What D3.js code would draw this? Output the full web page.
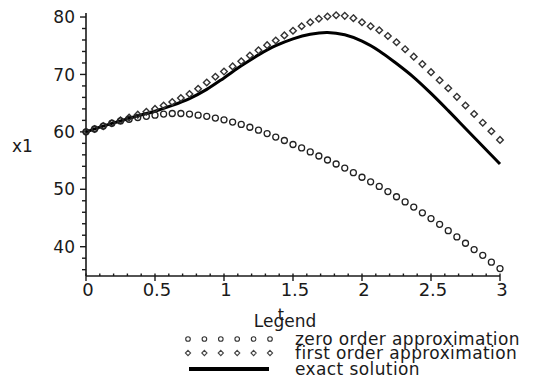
<!DOCTYPE html>
<html><head><meta charset="utf-8">
<script src="https://cdn.jsdelivr.net/npm/d3@7"></script>
<style>body{margin:0;background:#fff}svg{display:block}text{font-family:"DejaVu Sans",sans-serif;fill:#1a1a1a}</style>
</head><body><svg id="c" width="543" height="381"></svg>
<script>
// Time samples for the marker series (t = 0 .. 3)
const tMarkers = d3.range(49).map(i => i / 16);
const zeroOrder = [60.0,60.5,61.0,61.5,61.9,62.2,62.5,62.7,62.9,63.1,63.2,63.2,63.1,62.9,62.7,62.4,
  62.1,61.7,61.3,60.8,60.3,59.7,59.1,58.5,57.8,57.2,56.5,55.8,55.1,54.4,53.7,52.9,
  52.1,51.3,50.5,49.6,48.7,47.8,46.9,45.9,44.9,43.9,42.8,41.7,40.6,39.5,38.5,37.3,36.2];
const firstOrder = [60.0,60.5,61.0,61.5,62.0,62.5,63.0,63.5,64.0,64.6,65.2,65.9,66.6,67.5,68.6,69.6,
  70.5,71.4,72.3,73.3,74.2,75.1,75.9,76.8,77.6,78.4,79.1,79.7,80.1,80.3,80.2,79.8,
  79.1,78.4,77.7,76.7,75.6,74.4,73.1,71.8,70.4,69.0,67.6,66.1,64.6,63.1,61.6,60.1,58.6];
const tExact = [0,0.125,0.25,0.375,0.5,0.625,0.75,0.875,1,1.125,1.25,1.375,1.5,1.625,1.75,1.875,2,2.125,2.25,2.375,2.5,2.625,2.75,2.875,3];
const exact = [60.0,61.0,61.9,62.8,63.6,64.6,65.8,67.4,69.4,71.5,73.4,75.0,76.2,77.0,77.3,76.9,75.8,74.1,71.9,69.5,66.7,63.7,60.6,57.5,54.4];
const xTicks = [0,0.5,1,1.5,2,2.5,3];
const xTickLabels = ["0","0.5","1","1.5","2","2.5","3"];
const yTicks = [40,50,60,70,80];
const yTickLabels = ["40","50","60","70","80"];
const legendLabels = ["zero order approximation","first order approximation","exact solution"];

const svg = d3.select("#c");
const x = d3.scaleLinear().domain([0,3]).range([86,500]);
const y = d3.scaleLinear().domain([34.9,80.7]).range([276,13]);
const ink = "#1a1a1a";

// y axis
svg.append("line").attr("x1",x(0)).attr("x2",x(0)).attr("y1",y.range()[1]).attr("y2",y.range()[0]).attr("stroke",ink).attr("stroke-width",1.6);
d3.range(36,81,2).forEach(v=>{
  const major = v % 10 === 0;
  svg.append("line").attr("x1",x(0)-(major?6:4)).attr("x2",x(0)).attr("y1",y(v)).attr("y2",y(v)).attr("stroke",ink).attr("stroke-width",1.4);
});
yTicks.forEach((v,i)=>{
  svg.append("text").attr("x",x(0)-11).attr("y",y(v)).attr("dy","0.36em").attr("text-anchor","end").attr("font-size",17).text(yTickLabels[i]);
});
// x axis
svg.append("line").attr("x1",x(0)).attr("x2",x(3)).attr("y1",y(34.9)).attr("y2",y(34.9)).attr("stroke",ink).attr("stroke-width",1.6);
d3.range(0,31).forEach(k=>{
  const t = k/10, major = k % 5 === 0;
  svg.append("line").attr("x1",x(t)).attr("x2",x(t)).attr("y1",y(34.9)+(major?5:0)).attr("y2",y(34.9)-2.5).attr("stroke",ink).attr("stroke-width",1.4);
});
xTicks.forEach((t,i)=>{
  svg.append("text").attr("x",x(t)+2).attr("y",296).attr("text-anchor","middle").attr("font-size",18).text(xTickLabels[i]);
});
svg.append("text").attr("x",12).attr("y",152).attr("font-size",17).text("x1");
svg.append("text").attr("x",281).attr("y",320).attr("text-anchor","middle").attr("font-size",16).text("t");

// exact solution line
const line = d3.line().x(d=>x(d[0])).y(d=>y(d[1])).curve(d3.curveCatmullRom.alpha(0.5));
svg.append("path").datum(tExact.map((t,i)=>[t,exact[i]])).attr("d",line).attr("fill","none").attr("stroke","#000").attr("stroke-width",3);

// first order diamonds
const diamond = (cx,cy,r)=>`M${cx},${cy-r}L${cx+r},${cy}L${cx},${cy+r}L${cx-r},${cy}Z`;
svg.append("g").selectAll("path").data(tMarkers.map((t,i)=>[t,firstOrder[i]])).join("path")
  .attr("d",d=>diamond(x(d[0]),y(d[1]),3.3)).attr("fill","none").attr("stroke","#333").attr("stroke-width",1.4);
// zero order circles
svg.append("g").selectAll("circle").data(tMarkers.map((t,i)=>[t,zeroOrder[i]])).join("circle")
  .attr("cx",d=>x(d[0])).attr("cy",d=>y(d[1])).attr("r",3).attr("fill","none").attr("stroke","#222").attr("stroke-width",1.3);

// legend
svg.append("text").attr("x",285).attr("y",327).attr("text-anchor","middle").attr("font-size",17).text("Legend");
const lx = d3.range(6).map(i=>188+16.4*i);
const rowY = [339,353,369];
lx.forEach(cx=>{
  svg.append("circle").attr("cx",cx).attr("cy",rowY[0]).attr("r",2.3).attr("fill","none").attr("stroke","#333").attr("stroke-width",1.1);
  svg.append("path").attr("d",diamond(cx,rowY[1],2.6)).attr("fill","none").attr("stroke","#444").attr("stroke-width",1.1);
});
svg.append("line").attr("x1",189).attr("x2",269).attr("y1",rowY[2]).attr("y2",rowY[2]).attr("stroke","#000").attr("stroke-width",4);
legendLabels.forEach((s,i)=>{
  svg.append("text").attr("x",295).attr("y",rowY[i]+6).attr("font-size",17).attr("letter-spacing",0.4).text(s);
});
</script></body></html>
